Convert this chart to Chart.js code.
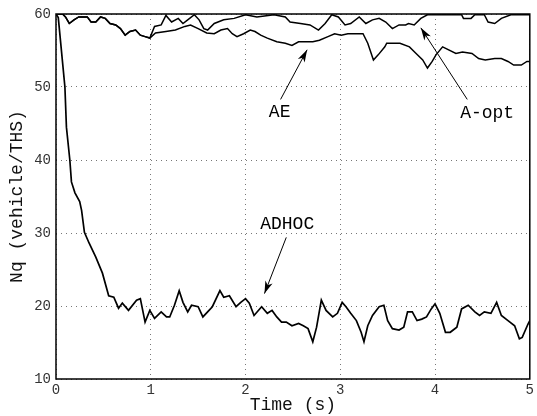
<!DOCTYPE html>
<html>
<head>
<meta charset="utf-8">
<script src="https://cdn.jsdelivr.net/npm/chart.js@4/dist/chart.umd.min.js"></script>
<style>
  html, body { margin: 0; padding: 0; background: #fff; }
  #wrap { width: 537px; height: 416px; }
</style>
</head>
<body>
<div id="wrap"><canvas id="myChart"></canvas></div>
<script>
const ctx = document.getElementById('myChart');

// ADHOC
var adhocT = [0, 0.024, 0.094, 0.11, 0.146, 0.163, 0.2, 0.25, 0.27, 0.30, 0.35, 0.42, 0.49, 0.556, 0.61, 0.66, 0.70, 0.765, 0.85, 0.89, 0.94, 0.99, 1.04, 1.11, 1.166, 1.2, 1.25, 1.30, 1.34, 1.39, 1.43, 1.50, 1.55, 1.60, 1.65, 1.73, 1.77, 1.83, 1.90, 1.95, 2.0, 2.04, 2.09, 2.17, 2.23, 2.28, 2.33, 2.38, 2.43, 2.49, 2.56, 2.61, 2.66, 2.71, 2.75, 2.80, 2.85, 2.92, 2.97, 3.02, 3.06, 3.11, 3.17, 3.22, 3.25, 3.29, 3.34, 3.41, 3.46, 3.50, 3.55, 3.62, 3.67, 3.71, 3.76, 3.81, 3.86, 3.91, 3.96, 4.0, 4.05, 4.11, 4.16, 4.23, 4.28, 4.35, 4.42, 4.47, 4.52, 4.59, 4.65, 4.70, 4.77, 4.84, 4.89, 4.92, 4.98, 5.0];
var adhocV = [60, 59.5, 50, 44.5, 40, 37, 35.5, 34.3, 33.1, 30.1, 28.6, 26.7, 24.5, 21.4, 21.2, 19.7, 20.4, 19.4, 20.8, 21.0, 17.8, 19.4, 18.3, 19.2, 18.5, 18.5, 20.1, 22.1, 20.5, 19.2, 20.1, 19.9, 18.5, 19.2, 19.9, 22.1, 21.2, 21.4, 19.9, 20.5, 21.0, 20.4, 18.7, 19.9, 19.0, 19.4, 18.5, 17.8, 17.8, 17.3, 17.6, 17.3, 16.9, 15.1, 17.1, 20.8, 19.4, 18.5, 19.0, 20.5, 19.9, 19.0, 18.0, 16.4, 15.1, 17.3, 18.7, 19.9, 20.1, 18.0, 16.9, 16.7, 17.1, 19.2, 19.2, 18.0, 18.2, 18.5, 19.6, 20.3, 19.0, 16.4, 16.4, 17.1, 19.6, 20.1, 19.2, 18.7, 19.2, 19.0, 20.5, 18.7, 18.0, 17.3, 15.5, 15.7, 17.5, 18.0];

// AE
var aeT = [0, 0.07, 0.10, 0.14, 0.19, 0.24, 0.27, 0.33, 0.37, 0.42, 0.47, 0.52, 0.57, 0.63, 0.68, 0.73, 0.78, 0.84, 0.89, 0.94, 0.99, 1.05, 1.16, 1.26, 1.36, 1.42, 1.50, 1.59, 1.67, 1.74, 1.81, 1.86, 1.91, 1.98, 2.05, 2.10, 2.16, 2.23, 2.33, 2.42, 2.49, 2.56, 2.64, 2.71, 2.78, 2.87, 2.94, 3.01, 3.08, 3.17, 3.24, 3.29, 3.35, 3.40, 3.47, 3.49, 3.63, 3.73, 3.80, 3.87, 3.92, 3.97, 4.01, 4.08, 4.22, 4.29, 4.39, 4.46, 4.53, 4.63, 4.70, 4.77, 4.83, 4.91, 4.97, 5.0];
var aeV = [60, 60, 59.6, 58.7, 59.2, 59.6, 59.6, 59.6, 58.9, 58.9, 59.6, 59.4, 58.7, 58.5, 58.0, 57.1, 57.6, 57.8, 57.1, 56.9, 56.7, 57.4, 57.6, 57.8, 58.3, 58.5, 58.0, 57.4, 57.3, 57.8, 58.0, 57.3, 56.9, 57.3, 57.8, 57.6, 57.1, 56.7, 56.2, 56.0, 55.7, 56.2, 56.2, 56.2, 56.4, 56.9, 57.3, 57.1, 57.3, 57.3, 57.3, 56.0, 53.7, 54.4, 55.5, 56.0, 56.0, 55.5, 54.6, 53.7, 52.6, 53.5, 54.4, 55.5, 54.6, 54.8, 54.6, 53.9, 53.7, 53.9, 53.9, 53.5, 53.0, 53.0, 53.5, 53.5];

// A-opt
var aoptT = [0, 0.07, 0.10, 0.14, 0.19, 0.24, 0.27, 0.33, 0.37, 0.42, 0.47, 0.52, 0.57, 0.63, 0.68, 0.73, 0.78, 0.84, 0.89, 0.94, 0.99, 1.04, 1.11, 1.16, 1.22, 1.29, 1.34, 1.39, 1.46, 1.51, 1.56, 1.60, 1.67, 1.77, 1.88, 2.0, 2.12, 2.30, 2.42, 2.47, 2.58, 2.68, 2.77, 2.84, 2.91, 2.98, 3.05, 3.11, 3.20, 3.27, 3.34, 3.41, 3.48, 3.55, 3.62, 3.69, 3.72, 3.78, 3.85, 3.92, 4.0, 4.14, 4.28, 4.30, 4.38, 4.42, 4.52, 4.56, 4.63, 4.70, 4.80, 5.0];
var aoptV = [60, 60, 59.6, 58.7, 59.2, 59.6, 59.6, 59.6, 58.9, 58.9, 59.6, 59.4, 58.7, 58.5, 58.0, 57.1, 57.6, 57.8, 57.1, 56.9, 56.7, 58.3, 58.5, 59.8, 58.9, 59.4, 58.7, 59.2, 59.9, 59.2, 58.0, 57.8, 58.7, 59.2, 59.4, 59.9, 59.6, 59.9, 59.6, 58.9, 58.7, 58.5, 57.8, 58.7, 59.9, 59.6, 58.5, 58.7, 59.6, 58.7, 59.2, 59.4, 58.9, 58.0, 58.5, 58.5, 58.7, 58.5, 59.4, 59.9, 59.9, 59.9, 59.9, 59.4, 59.4, 59.9, 59.9, 58.9, 58.7, 59.4, 59.9, 59.9];

// labels with arrows: text position, arrow tail, arrow tip (data units)
var labelNames = ['AE', 'A-opt', 'ADHOC'];
var labelPos = [[2.36, 46.6], [4.55, 46.4], [2.44, 31.2]];
var arrowFrom = [[2.37, 48.3], [4.34, 48.3], [2.43, 29.4]];
var arrowTo = [[2.65, 55.1], [3.85, 58.1], [2.20, 21.7]];

function pts(t, v) {
    return t.map(function (x, i) { return { x: x, y: v[i] }; });
}

const monoFont = '"Liberation Mono", "DejaVu Sans Mono", monospace';

const frameAndNotes = {
    id: 'frameAndNotes',
    afterDraw(chart) {
        const c = chart.ctx;
        const a = chart.chartArea;
        const xs = chart.scales.x, ys = chart.scales.y;
        c.save();
        c.strokeStyle = '#000';
        c.lineWidth = 1.5;
        c.strokeRect(a.left, a.top, a.right - a.left, a.bottom - a.top);

        c.fillStyle = '#000';
        c.font = '18px ' + monoFont;
        c.textAlign = 'center';
        c.textBaseline = 'middle';
        labelNames.forEach(function (name, i) {
            c.fillText(name, xs.getPixelForValue(labelPos[i][0]), ys.getPixelForValue(labelPos[i][1]));
            const x1 = xs.getPixelForValue(arrowFrom[i][0]), y1 = ys.getPixelForValue(arrowFrom[i][1]);
            const x2 = xs.getPixelForValue(arrowTo[i][0]), y2 = ys.getPixelForValue(arrowTo[i][1]);
            const ang = Math.atan2(y2 - y1, x2 - x1);
            c.lineWidth = 1;
            c.beginPath();
            c.moveTo(x1, y1);
            c.lineTo(x2, y2);
            c.stroke();
            c.beginPath();
            c.moveTo(x2, y2);
            c.lineTo(x2 - 13 * Math.cos(ang - 0.3), y2 - 13 * Math.sin(ang - 0.3));
            c.lineTo(x2 - 9 * Math.cos(ang), y2 - 9 * Math.sin(ang));
            c.lineTo(x2 - 13 * Math.cos(ang + 0.3), y2 - 13 * Math.sin(ang + 0.3));
            c.closePath();
            c.fill();
        });
        c.restore();
    }
};

new Chart(ctx, {
    type: 'line',
    data: {
        datasets: [{
            label: 'ADHOC',
            data: pts(adhocT, adhocV),
            borderColor: '#000',
            borderWidth: 1.7,
            pointRadius: 0,
            tension: 0
        }, {
            label: 'AE',
            data: pts(aeT, aeV),
            borderColor: '#000',
            borderWidth: 1.5,
            pointRadius: 0,
            tension: 0
        }, {
            label: 'A-opt',
            data: pts(aoptT, aoptV),
            borderColor: '#000',
            borderWidth: 1.5,
            pointRadius: 0,
            tension: 0
        }]
    },
    options: {
        responsive: true,
        maintainAspectRatio: false,
        animation: false,
        events: [],
        layout: { padding: { top: 14, right: 2, left: 0, bottom: 0 } },
        plugins: {
            legend: { display: false },
            tooltip: { enabled: false }
        },
        scales: {
            x: {
                type: 'linear',
                min: 0,
                max: 5,
                afterFit: function (s) { s.height = 37; },
                ticks: {
                    stepSize: 1,
                    color: '#333',
                    padding: 3,
                    font: { family: monoFont, size: 14 }
                },
                grid: { color: '#777', lineWidth: 1, drawTicks: false },
                border: { display: false, dash: [1, 4] },
                title: {
                    display: true,
                    text: 'Time (s)',
                    color: '#111',
                    padding: 0,
                    font: { family: monoFont, size: 18 }
                }
            },
            y: {
                min: 10,
                max: 60,
                afterFit: function (s) { s.width = 56; },
                ticks: {
                    stepSize: 10,
                    color: '#333',
                    padding: 5,
                    font: { family: monoFont, size: 14 }
                },
                grid: { color: '#777', lineWidth: 1, drawTicks: false },
                border: { display: false, dash: [1, 4] },
                title: {
                    display: true,
                    text: 'Nq (vehicle/THS)',
                    color: '#111',
                    padding: { top: 6, bottom: 0 },
                    font: { family: monoFont, size: 18 }
                }
            }
        }
    },
    plugins: [frameAndNotes]
});
</script>
</body>
</html>
